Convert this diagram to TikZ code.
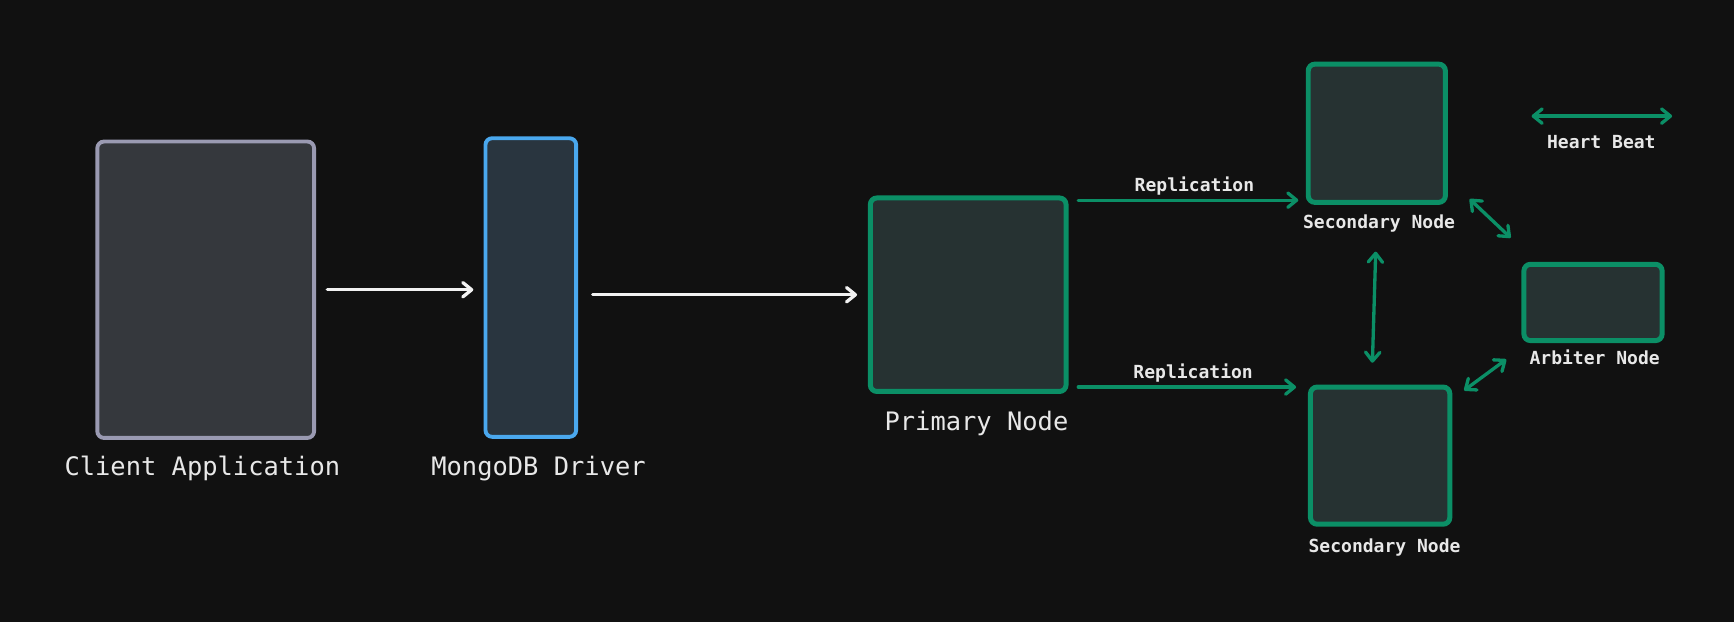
\documentclass[tikz,border=0pt]{standalone}
\usepackage{fontspec}
\setmonofont{DejaVu Sans Mono}
\usepackage{tikz}
\usetikzlibrary{arrows.meta,positioning,calc}

\definecolor{bgdark}{HTML}{111111}
\definecolor{clientline}{HTML}{9A9AB2}
\definecolor{clientfill}{HTML}{35383D}
\definecolor{driverline}{HTML}{4AA8EE}
\definecolor{driverfill}{HTML}{29353F}
\definecolor{nodegreen}{HTML}{0B8F66}
\definecolor{nodefill}{HTML}{263232}
\definecolor{labelwhite}{HTML}{E8E8E8}
\definecolor{arrowwhite}{HTML}{F2F2F2}

\tikzset{
  box/.style={draw, line width=3.5pt, rounded corners=6pt, inner sep=0pt, outer sep=0pt},
  greenbox/.style={box, draw=nodegreen, fill=nodefill, line width=4.5pt},
  biglbl/.style={text=labelwhite, inner sep=0pt, anchor=base,
    font=\fontsize{23}{27}\selectfont\ttfamily},
  smalllbl/.style={text=labelwhite, inner sep=0pt, anchor=base,
    font=\fontsize{16.3}{19}\selectfont\ttfamily\bfseries},
  barb/.tip={Straight Barb[length=8pt,width=13pt,line cap=round,line join=round]},
  flow/.style={draw=arrowwhite, line width=3pt, line cap=round, -barb},
  repl/.style={draw=nodegreen, line width=3pt, line cap=round, -barb},
  beat/.style={draw=nodegreen, line width=3pt, line cap=round, barb-barb},
}

\begin{document}
\begin{tikzpicture}[x=1pt,y=-1pt]
  \fill[bgdark] (0,0) rectangle (1568,562);
  \useasboundingbox (0,0) rectangle (1568,562);

  % client side
  \node[box,draw=clientline,fill=clientfill,minimum width=196pt,minimum height=268pt]
    (client) at (186,262) {};
  \node[box,draw=driverline,fill=driverfill,minimum width=82pt,minimum height=270pt]
    (driver) at (480,260) {};
  \node[biglbl] (clientlbl) at (183,430) {Client Application};
  \node[biglbl] (driverlbl) at (487,430) {MongoDB Driver};

  % replica set
  \node[greenbox,minimum width=177pt,minimum height=175pt] (primary) at (875.5,266.5) {};
  \node[greenbox,minimum width=124pt,minimum height=125pt] (sec1) at (1245,120.5) {};
  \node[greenbox,minimum width=126pt,minimum height=124pt] (sec2) at (1248,412) {};
  \node[greenbox,minimum width=125pt,minimum height=69pt] (arbiter) at (1440.5,273.5) {};
  \node[biglbl] (primarylbl) at (883,389) {Primary Node};
  \node[smalllbl] (sec1lbl) at (1247,207) {Secondary Node};
  \node[smalllbl] (sec2lbl) at (1252,500) {Secondary Node};
  \node[smalllbl] (arbiterlbl) at (1442,330) {Arbiter Node};

  % legend
  \coordinate (hbl) at (1385,105);
  \coordinate (hbr) at (1512,105);
  \node[smalllbl] (hblbl) at (1448,134) {Heart Beat};

  % connectors
  \draw[flow,shorten <=12pt,shorten >=11pt] (client.east) -- (driver.west |- client.east);
  \draw[flow,shorten <=15pt,shorten >=12pt] (driver.east |- primary.west) -- (primary.west);
  \draw[repl,shorten <=11pt,shorten >=9pt] ([yshift=-2pt]primary.north east)
    -- node[smalllbl,pos=0.53,anchor=south,yshift=3pt] (repl1lbl) {Replication}
    ([yshift=2pt]sec1.south west);
  \draw[repl,shorten <=11pt,shorten >=13pt] ([yshift=4pt]primary.south east)
    -- node[smalllbl,pos=0.52,anchor=south,yshift=3pt] (repl2lbl) {Replication}
    (sec2.north west);
  \draw[beat] (hbl) -- (hbr);
  \draw[beat] ([xshift=-3pt,yshift=-17pt]sec1lbl.south) -- ([xshift=-7pt,yshift=22pt]sec2.north);
  \draw[beat] ([xshift=22pt,yshift=3pt]sec1.south east) -- ([xshift=-12pt,yshift=24pt]arbiter.north west);
  \draw[beat] ([xshift=13pt,yshift=-3pt]sec2.north east) -- ([xshift=-16pt,yshift=-17pt]arbiter.south west);
\end{tikzpicture}
\end{document}
